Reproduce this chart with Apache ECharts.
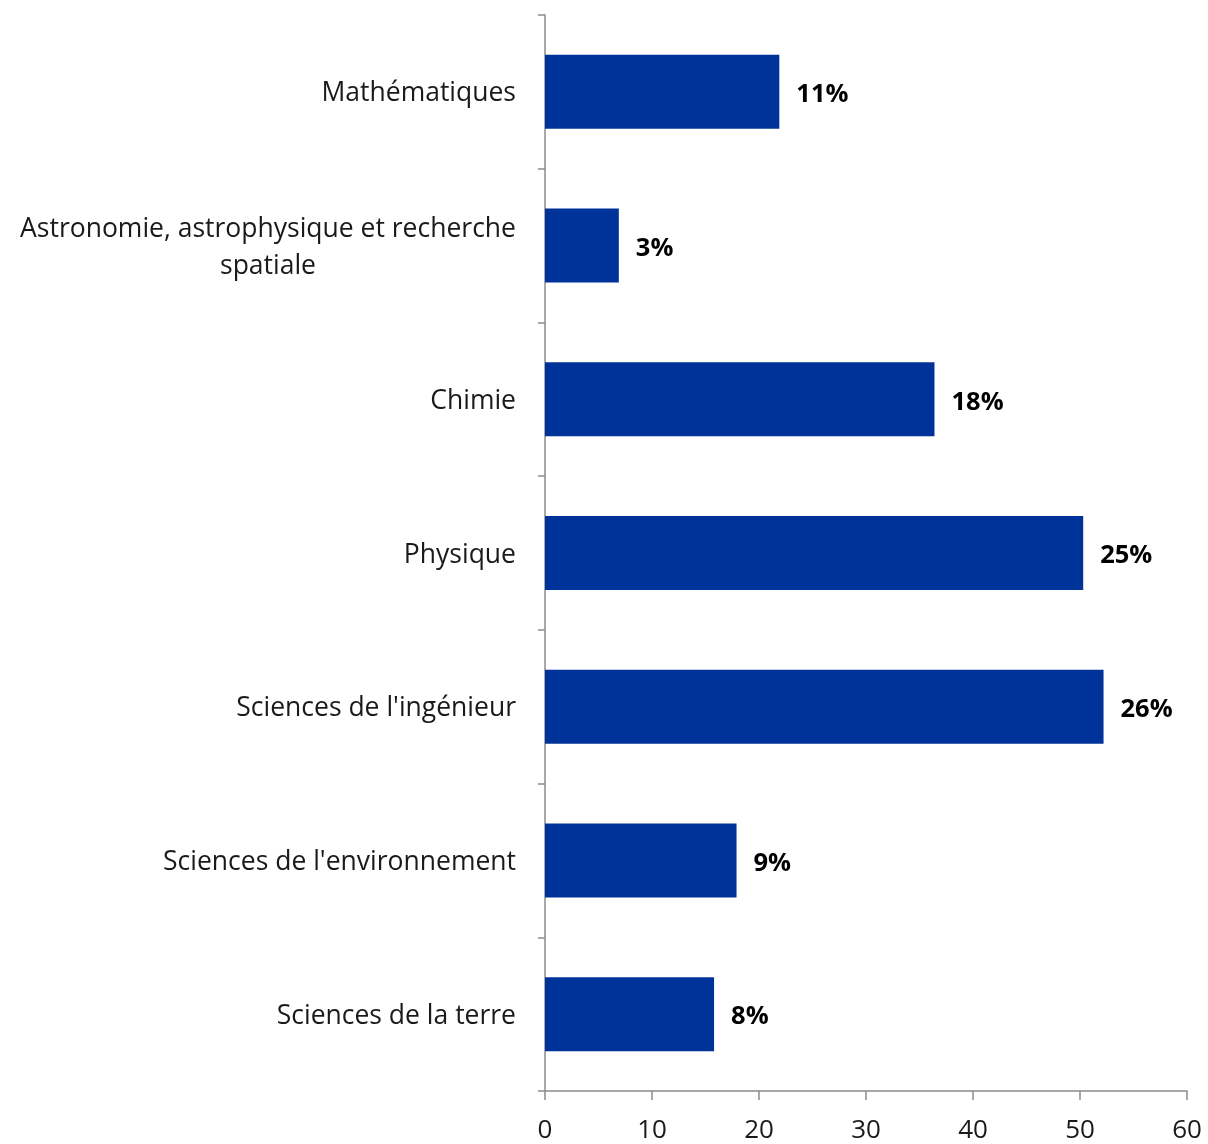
<!DOCTYPE html>
<html>
<head>
<meta charset="utf-8">
<script src="https://cdn.jsdelivr.net/npm/echarts@6/dist/echarts.min.js"></script>
<style>
  html, body { margin: 0; padding: 0; background: #fff; }
  #chart { width: 1208px; height: 1144px; }
</style>
</head>
<body>
<div id="chart"></div>
<script>
// données
const categories = [
  'Mathématiques',
  'Astronomie, astrophysique et recherche\nspatiale',
  'Chimie',
  'Physique',
  "Sciences de l'ingénieur",
  "Sciences de l'environnement",
  'Sciences de la terre'
];
const values = [21.9, 6.9, 36.4, 50.3, 52.2, 17.9, 15.8];
const percents = ['11%', '3%', '18%', '25%', '26%', '9%', '8%'];
const xTicks = [0, 10, 20, 30, 40, 50, 60];

const FONT = '"Open Sans"';
const labelSize = 26.5;

// largeur de la ligne la plus longue, pour centrer les lignes d'un libellé sur deux lignes
function textWidth(s) {
  const ctx = document.createElement('canvas').getContext('2d');
  ctx.font = labelSize + 'px ' + FONT;
  return Math.ceil(ctx.measureText(s).width);
}

const myChart = echarts.init(document.getElementById('chart'));

const options = {
  backgroundColor: '#ffffff',
  animation: false,
  grid: { left: 545, right: 21, top: 15, bottom: 53, containLabel: false },
  xAxis: {
    type: 'value',
    min: xTicks[0],
    max: xTicks[xTicks.length - 1],
    interval: 10,
    splitLine: { show: false },
    axisLine: { show: true, lineStyle: { color: '#8c8c8c', width: 1.5 } },
    axisTick: { show: true, length: 9, lineStyle: { color: '#8c8c8c', width: 1.5 } },
    axisLabel: { color: '#1a1a1a', fontFamily: FONT, fontSize: 26, margin: 27 }
  },
  yAxis: {
    type: 'category',
    inverse: true,
    data: categories,
    axisLine: { show: true, lineStyle: { color: '#8c8c8c', width: 1.5 } },
    axisTick: { show: true, length: 7, alignWithLabel: false, lineStyle: { color: '#8c8c8c', width: 1.5 } },
    axisLabel: {
      color: '#1a1a1a',
      fontFamily: FONT,
      fontSize: labelSize,
      margin: 29,
      lineHeight: 37,
      padding: [4, 0, 0, 0],
      formatter: function (v) {
        if (v.indexOf('\n') < 0) return v;
        return v.split('\n').map(l => '{c|' + l + '}').join('\n');
      },
      rich: {
        c: {
          width: textWidth('Astronomie, astrophysique et recherche'),
          align: 'center',
          fontFamily: FONT,
          fontSize: labelSize,
          lineHeight: 37,
          color: '#1a1a1a'
        }
      }
    }
  },
  series: [{
    type: 'bar',
    data: values,
    barWidth: 74,
    itemStyle: { color: '#003399' },
    label: {
      show: true,
      position: 'right',
      distance: 17,
      offset: [0, 3],
      color: '#000',
      fontFamily: FONT,
      fontWeight: 'bold',
      fontSize: 25.5,
      formatter: p => percents[p.dataIndex]
    }
  }]
};

myChart.setOption(options);
</script>
</body>
</html>
